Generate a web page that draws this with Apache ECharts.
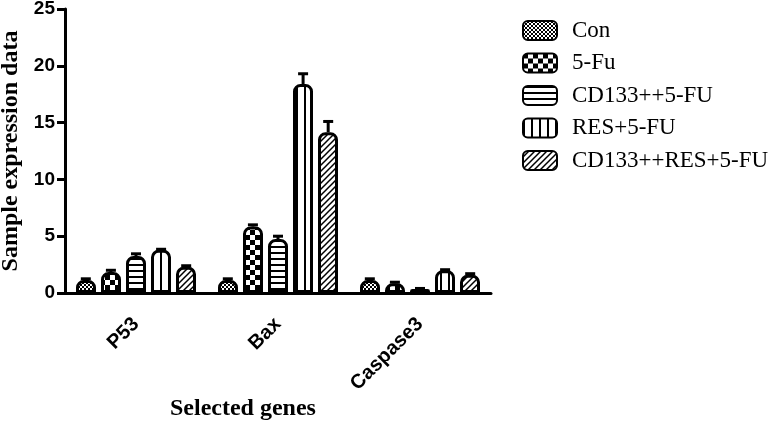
<!DOCTYPE html>
<html>
<head>
<meta charset="utf-8">
<script src="https://cdn.jsdelivr.net/npm/echarts@6/dist/echarts.min.js"></script>
<style>
  html, body { margin: 0; padding: 0; background: #fff; }
  #chart { width: 782px; height: 427px; }
</style>
</head>
<body>
<div id="chart"></div>
<script>
// data
const genes = ['P53', 'Bax', 'Caspase3'];
const groups = ['Con', '5-Fu', 'CD133++5-FU', 'RES+5-FU', 'CD133++RES+5-FU'];
const conVals = [1.15, 1.15, 1.15];
const fuVals = [1.85, 5.85, 0.85];
const cdVals = [3.25, 4.75, 0.35];
const resVals = [3.8, 18.4, 2.0];
const cdResVals = [2.3, 14.15, 1.6];
const conErr = [0.1, 0.1, 0.1];
const fuErr = [0.15, 0.15, 0.1];
const cdErr = [0.2, 0.25, 0.05];
const resErr = [0.05, 0.9, 0.05];
const cdResErr = [0.1, 0.95, 0.1];
const yTicks = [0, 5, 10, 15, 20, 25];

const values = [conVals, fuVals, cdVals, resVals, cdResVals];
const errors = [conErr, fuErr, cdErr, resErr, cdResErr];

// fill patterns
function makePattern(w, h, draw) {
  const c = document.createElement('canvas');
  c.width = w; c.height = h;
  const ctx = c.getContext('2d');
  ctx.fillStyle = '#fff';
  ctx.fillRect(0, 0, w, h);
  ctx.fillStyle = '#000';
  ctx.strokeStyle = '#000';
  draw(ctx);
  return { image: c, repeat: 'repeat' };
}

const patterns = [
  makePattern(4, 4, ctx => {
    ctx.fillRect(0, 0, 2, 2);
    ctx.fillRect(2, 2, 2, 2);
  }),
  makePattern(10, 10, ctx => {
    ctx.fillRect(0, 0, 5, 5);
    ctx.fillRect(5, 5, 5, 5);
  }),
  makePattern(4, 6, ctx => {
    ctx.fillRect(0, 0, 4, 2);
  }),
  makePattern(8, 4, ctx => {
    ctx.fillRect(0, 0, 2, 4);
  }),
  makePattern(6, 6, ctx => {
    ctx.lineWidth = 1.5;
    ctx.beginPath();
    ctx.moveTo(0, 6); ctx.lineTo(6, 0);
    ctx.moveTo(-3, 3); ctx.lineTo(3, -3);
    ctx.moveTo(3, 9); ctx.lineTo(9, 3);
    ctx.stroke();
  })
];

const chart = echarts.init(document.getElementById('chart'));

const barSeries = groups.map((name, i) => ({
  name: name,
  type: 'bar',
  data: values[i],
  barWidth: 20,
  barGap: '25%',
  itemStyle: {
    color: patterns[i],
    borderColor: '#000',
    borderWidth: 3,
    borderRadius: [6, 6, 0, 0]
  },
  z: 2
}));

// error bars (upper only), placed over each bar
const errSeries = groups.map((name, i) => ({
  type: 'custom',
  silent: true,
  z: 1,
  data: genes.map((g, k) => [k, values[i][k], errors[i][k]]),
  renderItem: function (params, api) {
    const catW = api.size([1, 0])[0];
    const off = (i - 2) * catW * 0.1767;
    const base = api.coord([api.value(0), api.value(1)]);
    const top = api.coord([api.value(0), api.value(1) + api.value(2)]);
    const x = base[0] + off;
    return {
      type: 'group',
      children: [
        { type: 'line', shape: { x1: x, y1: base[1], x2: x, y2: top[1] },
          style: { stroke: '#000', lineWidth: 3 } },
        { type: 'line', shape: { x1: x - 5, y1: top[1], x2: x + 5, y2: top[1] },
          style: { stroke: '#000', lineWidth: 3 } }
      ]
    };
  }
}));

const option = {
  animation: false,
  grid: { left: 65, top: 9, right: 291, bottom: 134, containLabel: false, outerBoundsMode: 'none' },
  legend: {
    orient: 'vertical',
    left: 522,
    top: 19,
    padding: 0,
    itemWidth: 34,
    itemHeight: 19,
    itemGap: 9.5,
    icon: 'roundRect',
    data: groups,
    textStyle: { fontFamily: 'Liberation Serif', fontSize: 23, color: '#000', padding: [0, 0, 0, 10] }
  },
  xAxis: {
    type: 'category',
    data: genes,
    axisLine: { lineStyle: { color: '#000', width: 3 } },
    axisTick: { alignWithLabel: true, length: 8, lineStyle: { color: '#000', width: 3 } },
    axisLabel: {
      rotate: 45,
      margin: 28,
      fontFamily: 'Liberation Sans',
      fontWeight: 'bold',
      fontSize: 20,
      color: '#000'
    }
  },
  yAxis: {
    type: 'value',
    min: 0,
    max: 25,
    interval: 5,
    name: 'Sample expression data',
    nameLocation: 'middle',
    nameGap: 37,
    nameTextStyle: { fontFamily: 'Liberation Serif', fontWeight: 'bold', fontSize: 24, color: '#000' },
    axisLine: { show: true, lineStyle: { color: '#000', width: 3 } },
    axisTick: { show: true, length: 8, lineStyle: { color: '#000', width: 3 } },
    splitLine: { show: false },
    axisLabel: {
      margin: 10,
      fontFamily: 'Liberation Sans',
      fontWeight: 'bold',
      fontSize: 19,
      color: '#000',
      formatter: v => (yTicks.includes(v) ? String(v) : '')
    }
  },
  graphic: [{
    type: 'text',
    left: 170,
    top: 397,
    style: { text: 'Selected genes', font: 'bold 24px "Liberation Serif"', fill: '#000' }
  }],
  series: barSeries.concat(errSeries)
};

chart.setOption(option);
</script>
</body>
</html>
